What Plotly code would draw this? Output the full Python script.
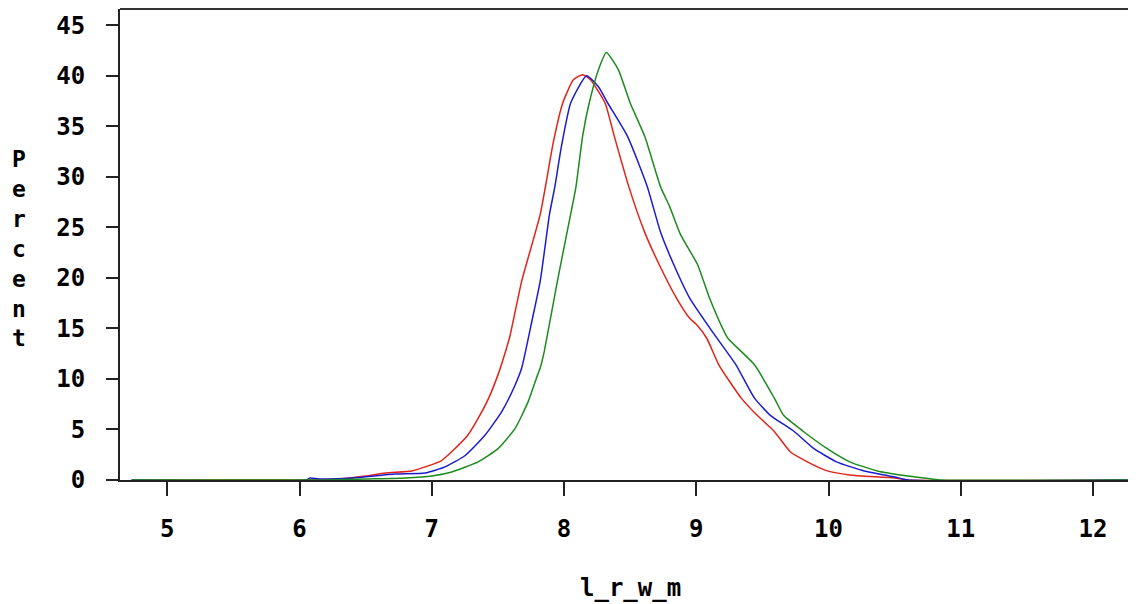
import plotly.graph_objects as go

red_x = [4.73, 6.0, 6.3, 6.5, 6.65, 6.85, 6.95, 7.07, 7.15, 7.27, 7.35, 7.43, 7.5, 7.55, 7.59,
         7.68, 7.82, 7.92, 7.99, 8.07, 8.14, 8.2, 8.31, 8.38, 8.49, 8.61, 8.72, 8.85, 8.95, 9.0,
         9.08, 9.17, 9.34, 9.46, 9.59, 9.71, 9.84, 9.99, 10.16, 10.5, 10.6, 12.33]
red_y = [0, 0, 0.1, 0.4, 0.7, 0.9, 1.3, 1.9, 2.8, 4.4, 6.1, 8.1, 10.4, 12.4, 14.2,
         19.7, 26.3, 33.5, 37.3, 39.6, 40.1, 39.6, 37.3, 34.0, 29.0, 24.5, 21.3, 18.0, 16.0, 15.4,
         14.0, 11.4, 8.1, 6.4, 4.8, 2.8, 1.8, 0.9, 0.5, 0.2, 0, 0]

blue_x = [4.73, 6.05, 6.08, 6.15, 6.4, 6.72, 6.95, 7.1, 7.25, 7.4, 7.53, 7.63, 7.68, 7.75, 7.82,
          7.89, 7.93, 7.98, 8.05, 8.17, 8.26, 8.33, 8.48, 8.63, 8.73, 8.83, 8.95, 9.12, 9.3, 9.44,
          9.56, 9.74, 9.89, 10.06, 10.27, 10.5, 10.6, 12.33]
blue_y = [0, 0, 0.2, 0.1, 0.2, 0.6, 0.7, 1.3, 2.4, 4.4, 6.8, 9.4, 11.1, 15.3, 19.7,
          26.3, 29.0, 33.0, 37.3, 40.0, 38.9, 37.3, 34.0, 29.0, 24.5, 21.3, 18.0, 14.7, 11.4, 8.1,
          6.4, 4.8, 3.1, 1.8, 0.9, 0.3, 0, 0]

green_x = [4.73, 6.2, 6.5, 6.8, 7.0, 7.15, 7.35, 7.5, 7.63, 7.73, 7.8, 7.82, 7.85, 7.95, 8.03,
           8.09, 8.14, 8.19, 8.26, 8.32, 8.41, 8.5, 8.61, 8.73, 8.8, 8.88, 9.01, 9.1, 9.21, 9.24,
           9.44, 9.59, 9.66, 9.81, 9.99, 10.16, 10.37, 10.6, 10.78, 10.85, 12.33]
green_y = [0, 0, 0.1, 0.2, 0.4, 0.8, 1.8, 3.1, 5.1, 7.8, 10.4, 11.1, 12.7, 19.7, 25.0,
           29.0, 34.0, 37.3, 40.6, 42.3, 40.6, 37.3, 34.0, 29.0, 27.0, 24.3, 21.3, 18.0, 14.7, 14.0,
           11.4, 8.1, 6.4, 4.8, 3.1, 1.8, 0.9, 0.4, 0.1, 0, 0]

x_ticks = [5, 6, 7, 8, 9, 10, 11, 12]
y_ticks = [0, 5, 10, 15, 20, 25, 30, 35, 40, 45]

FONT = "DejaVu Sans Mono"
# the page adds an 8px body margin, so the figure is sized to fit inside it
W, H = 1128, 596
ML, MR, MT, MB = 112, 0, 1, 124
PW, PH = W - ML - MR, H - MT - MB

fig = go.Figure()
fig.add_trace(go.Scatter(x=red_x, y=red_y, mode="lines",
                         line=dict(color="#e2231a", width=1.5, shape="spline", smoothing=0.5),
                         showlegend=False))
fig.add_trace(go.Scatter(x=blue_x, y=blue_y, mode="lines",
                         line=dict(color="#1c1ccf", width=1.5, shape="spline", smoothing=0.5),
                         showlegend=False))
fig.add_trace(go.Scatter(x=green_x, y=green_y, mode="lines",
                         line=dict(color="#1e8a1e", width=1.5, shape="spline", smoothing=0.5),
                         showlegend=False))

fig.update_layout(
    width=W, height=H,
    margin=dict(l=ML, r=MR, t=MT, b=MB, autoexpand=False),
    paper_bgcolor="white", plot_bgcolor="white",
    font=dict(family=FONT, size=24, color="black", weight="bold"),
    xaxis=dict(range=[4.642, 12.325], tickvals=x_ticks, ticktext=[str(v) for v in x_ticks],
               showgrid=False, zeroline=False, showline=True, linecolor="#222", linewidth=2,
               ticks="outside", ticklen=14, tickwidth=2, tickcolor="#222",
               ticklabelstandoff=12, automargin=False,
               tickfont=dict(family=FONT, size=24, color="black", weight="bold")),
    yaxis=dict(range=[0, 46.6], tickvals=y_ticks, ticktext=[str(v) for v in y_ticks],
               showgrid=False, zeroline=False, showline=True, linecolor="#222", linewidth=2,
               ticks="outside", ticklen=12, tickwidth=2, tickcolor="#222",
               ticklabelstandoff=16, automargin=False,
               tickfont=dict(family=FONT, size=24, color="black", weight="bold")),
    shapes=[dict(type="line", xref="paper", yref="paper", x0=0, x1=1, y0=1, y1=1,
                 line=dict(color="#333", width=2))],
    annotations=[
        dict(text="l_r_w_m", xref="paper", yref="paper", x=(622 - ML) / PW,
             y=(H - MB - 580) / PH,
             xanchor="center", yanchor="middle", showarrow=False,
             font=dict(family=FONT, size=24, color="black", weight="bold")),
        dict(text="P<br>e<br>r<br>c<br>e<br>n<br>t", xref="paper", yref="paper",
             x=(11 - ML) / PW, y=(H - MB - 240) / PH,
             xanchor="center", yanchor="middle", showarrow=False, align="center",
             font=dict(family=FONT, size=23, color="black", weight="bold")),
    ],
)

fig.write_html("out.html")
